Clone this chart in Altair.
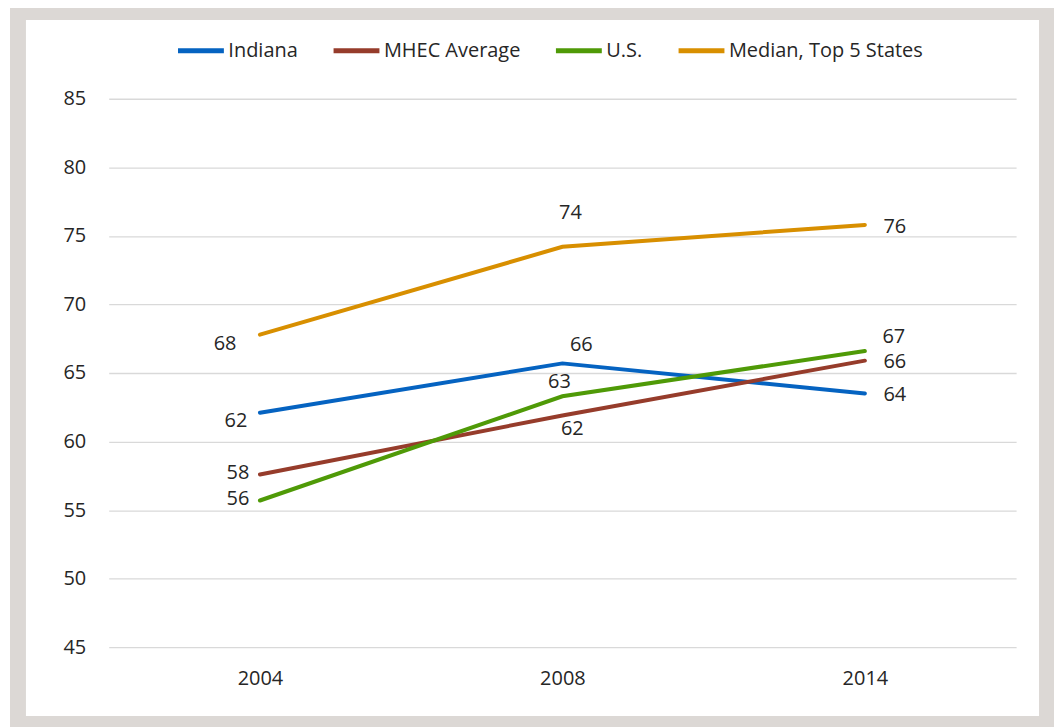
import altair as alt
import pandas as pd

years = ["2004", "2008", "2014"]
series_names = ["Indiana", "MHEC Average", "U.S.", "Median, Top 5 States"]
indiana = [62.1, 65.7, 63.5]
mhec_average = [57.6, 61.9, 65.9]
us = [55.7, 63.3, 66.6]
median_top5 = [67.8, 74.2, 75.8]
y_ticks = [45, 50, 55, 60, 65, 70, 75, 80, 85]

colors = ["#0563c1", "#963c2b", "#4f9a07", "#d88f00"]
# label placement (dx, dy) in pixels, per series, per year
label_offsets = {
    "Indiana": [(-24, 8), (19, -18), (30, 1)],
    "MHEC Average": [(-22, -1), (10, 14), (30, 1)],
    "U.S.": [(-22, -1), (-3, -14), (29, -14)],
    "Median, Top 5 States": [(-35, 9), (8, -34), (30, 2)],
}

FONT = "Open Sans"
TEXT = "#262626"

rows = []
for name, vals in zip(series_names, [indiana, mhec_average, us, median_top5]):
    for yr, v in zip(years, vals):
        rows.append({"series": name, "year": yr, "value": v})
df = pd.DataFrame(rows)

x_enc = alt.X(
    "year:N",
    sort=years,
    scale=alt.Scale(type="point", padding=0.5),
    axis=alt.Axis(title=None, labelAngle=0, domain=False, ticks=False, grid=False,
                  labelPadding=21, labelFontSize=20, labelFont=FONT, labelColor=TEXT),
)
y_enc = alt.Y(
    "value:Q",
    scale=alt.Scale(domain=[45, 85], nice=False, zero=False),
    axis=alt.Axis(title=None, values=y_ticks, domain=False, ticks=False,
                  gridColor="#d9d9d9", gridWidth=1.3, labelPadding=23,
                  labelFontSize=20, labelFont=FONT, labelColor=TEXT),
)

base = alt.Chart(df)

frame = alt.Chart(pd.DataFrame({"a": [0]})).mark_rect(
    fillOpacity=0, stroke="#dcd8d5", strokeWidth=16
).encode(x=alt.value(-91), x2=alt.value(941), y=alt.value(-87), y2=alt.value(627))

lines = base.mark_line(strokeWidth=4, strokeCap="round").encode(
    x=x_enc,
    y=y_enc,
    color=alt.Color(
        "series:N",
        sort=series_names,
        scale=alt.Scale(domain=series_names, range=colors),
        legend=alt.Legend(
            title=None, orient="none", direction="horizontal",
            legendX=67, legendY=-74,
            symbolType="stroke", symbolSize=2116, symbolStrokeWidth=5,
            labelOffset=2, columnPadding=25, labelFontSize=20, labelFont=FONT,
            labelColor=TEXT, labelLimit=400, padding=0,
        ),
    ),
)

layers = [frame, lines]
for name in series_names:
    for yr, (dx, dy) in zip(years, label_offsets[name]):
        t = base.transform_filter(
            (alt.datum.series == name) & (alt.datum.year == yr)
        ).mark_text(
            dx=dx, dy=dy, fontSize=20, font=FONT, color=TEXT,
            align="center", baseline="middle",
        ).encode(
            x=alt.X("year:N", sort=years, scale=alt.Scale(type="point", padding=0.5)),
            y=alt.Y("value:Q", scale=alt.Scale(domain=[45, 85], nice=False, zero=False)),
            text=alt.Text("value:Q", format=".0f"),
        )
        layers.append(t)

chart = alt.layer(*layers).properties(
    width=910,
    height=550,
    autosize=alt.AutoSizeParams(type="none"),
    padding={"left": 101, "top": 90, "right": 38, "bottom": 79},
    background="white",
).configure_view(stroke=None)

chart.save("out.html", embed_options={"renderer": "svg", "actions": False})
